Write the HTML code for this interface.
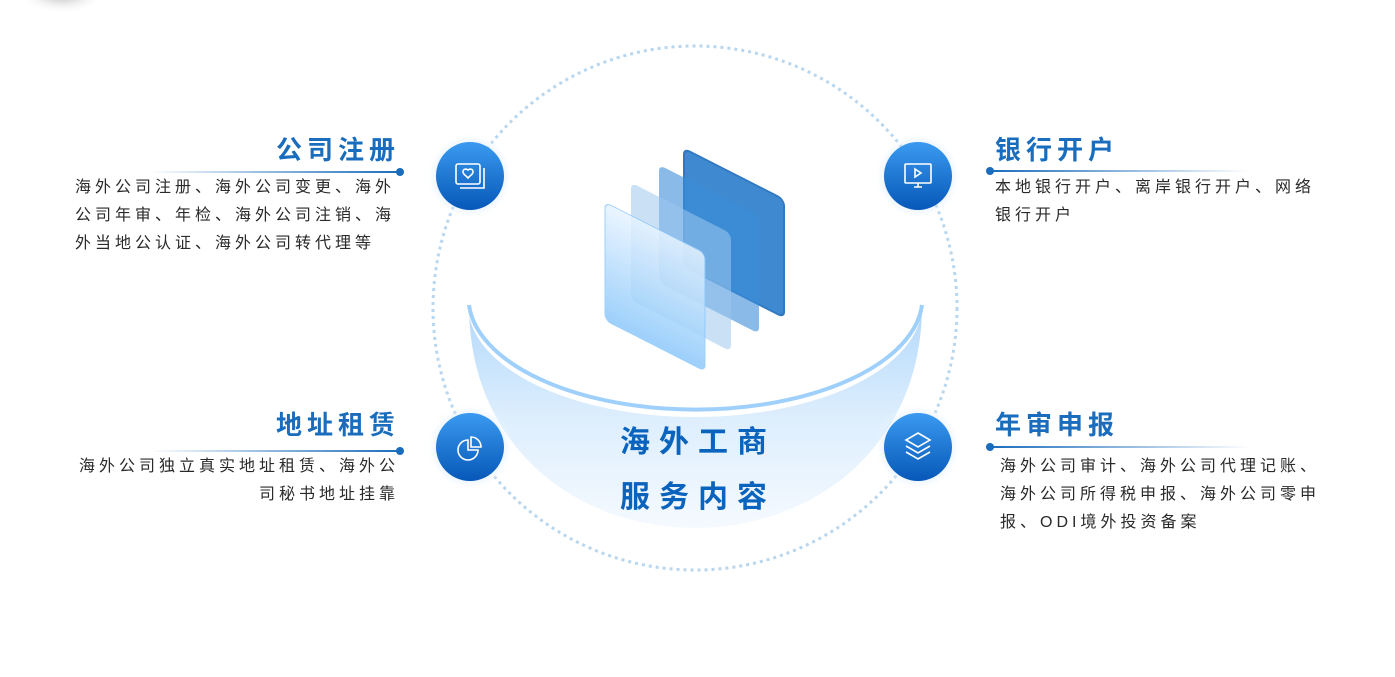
<!DOCTYPE html>
<html><head><meta charset="utf-8"><style>
body{margin:0;width:1395px;height:677px;background:#fff;position:relative;overflow:hidden;font-family:"Liberation Sans","Noto Sans CJK SC",sans-serif}
.t{position:absolute;font-size:26px;font-weight:bold;color:#1a6cbc;letter-spacing:5px;white-space:nowrap;line-height:30px}
.b{position:absolute;font-size:16px;color:#2a2a2a;letter-spacing:4px;line-height:28px;white-space:nowrap}
.c{position:absolute;font-size:30px;font-weight:bold;color:#0a63bd;letter-spacing:9px;white-space:nowrap;line-height:36px}
</style></head><body>
<svg width="1395" height="677" style="position:absolute;left:0;top:0">
<defs>
<radialGradient id="sh" cx="0.5" cy="0.5" r="0.5"><stop offset="0" stop-color="#888" stop-opacity=".8"/><stop offset="1" stop-color="#fff" stop-opacity="0"/></radialGradient>
<linearGradient id="bowl" x1="0" y1="0" x2="0" y2="1"><stop offset="0" stop-color="#a9d4fb"/><stop offset=".5" stop-color="#d9ecfd"/><stop offset="1" stop-color="#f4f9ff"/></linearGradient>
<linearGradient id="ic" x1="0" y1="0" x2="0" y2="1"><stop offset="0" stop-color="#3a9af0"/><stop offset="1" stop-color="#0758b8"/></linearGradient>
<radialGradient id="glow" cx=".5" cy=".5" r=".5"><stop offset=".6" stop-color="#bcdcfa" stop-opacity=".8"/><stop offset="1" stop-color="#fff" stop-opacity="0"/></radialGradient>
<linearGradient id="p1" x1="0" y1="0" x2="0" y2="1"><stop offset="0" stop-color="#e8f4ff"/><stop offset="1" stop-color="#8cc8fb"/></linearGradient>
<linearGradient id="ll" x1="0" x2="1"><stop offset="0" stop-color="#1a6cbc" stop-opacity="0"/><stop offset="1" stop-color="#1a6cbc"/></linearGradient>
<linearGradient id="lr" x1="0" x2="1"><stop offset="0" stop-color="#1a6cbc"/><stop offset="1" stop-color="#1a6cbc" stop-opacity="0"/></linearGradient>
</defs>
<ellipse cx="62" cy="-8" rx="45" ry="22" fill="url(#sh)"/>
<circle cx="695" cy="308" r="262" fill="none" stroke="#b8d6ee" stroke-width="3" stroke-dasharray="3 4"/>
<path d="M469 305 C469 450 580 528 695 528 C810 528 922 450 922 305 Z" fill="url(#bowl)" opacity=".9"/>
<ellipse cx="695" cy="305" rx="227" ry="112" fill="#fff"/>
<path d="M469 305 A227 112 0 0 0 922 305" fill="none" stroke="#9fd0fb" stroke-width="4"/>
<g transform="skewY(27)">
<rect x="684" y="-200" width="100" height="118" rx="6" fill="#1d75c8" opacity=".85" stroke="#0d62b8" stroke-width="2"/>
<rect x="659" y="-171" width="100" height="118" rx="6" fill="#3c8dd8" opacity=".6"/>
<rect x="631" y="-139" width="100" height="118" rx="6" fill="#9cc6ec" opacity=".55"/>
<rect x="605" y="-106" width="100" height="118" rx="6" fill="url(#p1)" opacity=".85" stroke="#8cc8fb"/>
</g>
<g>
<circle cx="470" cy="176" r="44" fill="url(#glow)"/><circle cx="470" cy="176" r="34" fill="url(#ic)"/>
<circle cx="918" cy="176" r="44" fill="url(#glow)"/><circle cx="918" cy="176" r="34" fill="url(#ic)"/>
<circle cx="470" cy="447" r="44" fill="url(#glow)"/><circle cx="470" cy="447" r="34" fill="url(#ic)"/>
<circle cx="918" cy="447" r="44" fill="url(#glow)"/><circle cx="918" cy="447" r="34" fill="url(#ic)"/>
</g>
<g fill="none" stroke="#fff" stroke-width="1.6">
<rect x="456" y="164" width="24" height="20" rx="2"/><path d="M460 188 h24 v-20"/><path d="M468 170 c-4-3-8 2-2 6l2 2 2-2c6-4 2-9-2-6z"/>
<rect x="905" y="164" width="26" height="19" rx="1"/><path d="M914 187 h8 M918 183 v4"/><path d="M915 169 l6 4 -6 4z"/>
<path d="M468 440 a10 10 0 1 0 10 10 h-10 z"/><path d="M471 437 a10 10 0 0 1 10 10 h-10 z"/>
<path d="M918 433 l12 7 -12 7 -12-7z"/><path d="M906 446 l12 7 12-7"/><path d="M906 452 l12 7 12-7"/>
</g>
<rect x="150" y="171" width="250" height="2" fill="url(#ll)"/><circle cx="400" cy="172" r="4" fill="#1a6cbc"/>
<rect x="990" y="170" width="260" height="2" fill="url(#lr)"/><circle cx="990" cy="171" r="4" fill="#1a6cbc"/>
<rect x="150" y="450" width="250" height="2" fill="url(#ll)"/><circle cx="400" cy="451" r="4" fill="#1a6cbc"/>
<rect x="990" y="446" width="260" height="2" fill="url(#lr)"/><circle cx="990" cy="447" r="4" fill="#1a6cbc"/>
</svg>
<div class="t" style="right:995px;top:135px">公司注册</div>
<div class="b" style="left:75px;top:174px">海外公司注册、海外公司变更、海外<br>公司年审、年检、海外公司注销、海<br>外当地公认证、海外公司转代理等</div>
<div class="t" style="left:995px;top:135px">银行开户</div>
<div class="b" style="left:995px;top:174px">本地银行开户、离岸银行开户、网络<br>银行开户</div>
<div class="t" style="right:995px;top:410px">地址租赁</div>
<div class="b" style="right:996px;top:453px;text-align:right">海外公司独立真实地址租赁、海外公<br>司秘书地址挂靠</div>
<div class="t" style="left:995px;top:410px">年审申报</div>
<div class="b" style="left:1000px;top:453px">海外公司审计、海外公司代理记账、<br>海外公司所得税申报、海外公司零申<br>报、ODI境外投资备案</div>
<div class="c" style="left:620px;top:425px">海外工商</div>
<div class="c" style="left:620px;top:480px">服务内容</div>
</body></html>
